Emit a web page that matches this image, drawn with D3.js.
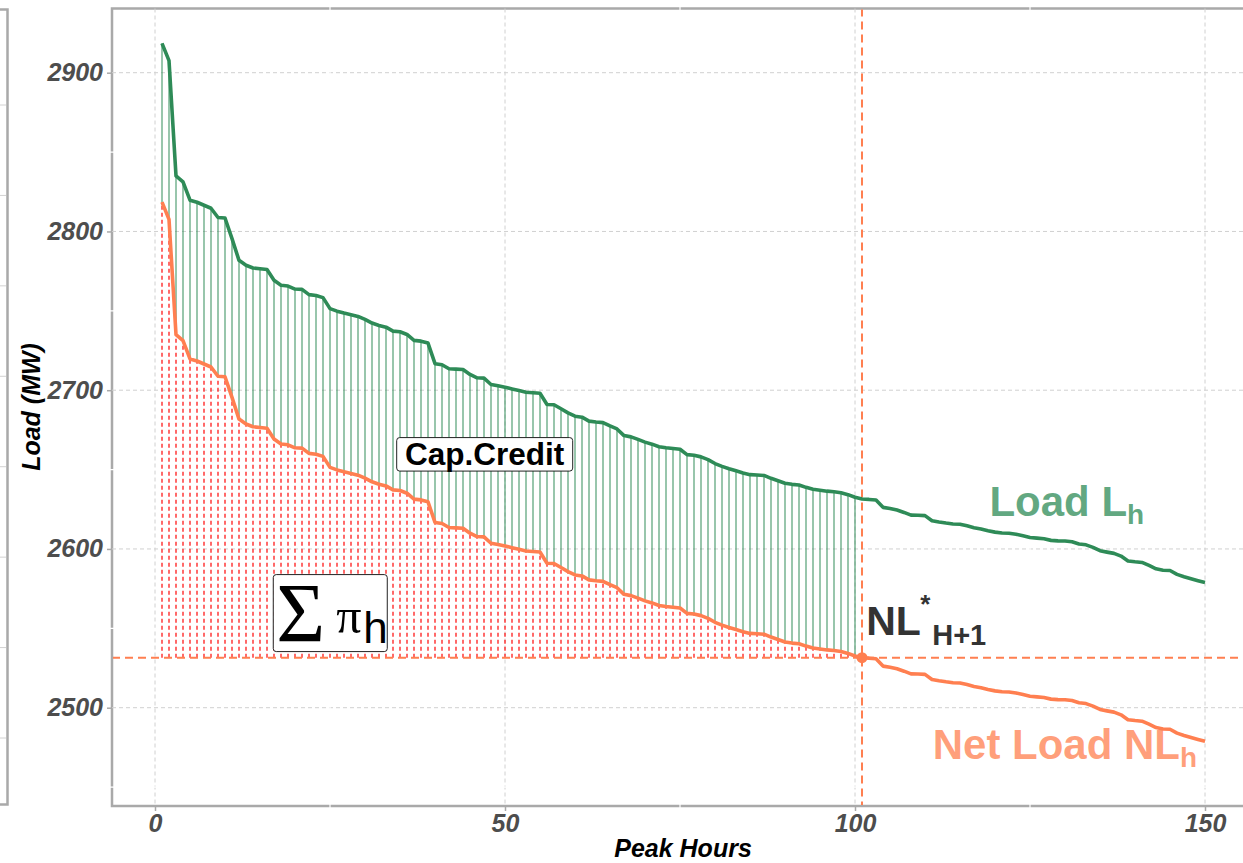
<!DOCTYPE html>
<html>
<head>
<meta charset="utf-8">
<script src="https://cdn.jsdelivr.net/npm/d3@7"></script>
<style>
  html, body { margin: 0; padding: 0; background: #ffffff; }
  svg { display: block; }
</style>
</head>
<body>
<svg id="chart" width="1243" height="863"></svg>
<script>
// Hourly load for the 150 peak hours, sorted from highest to lowest (MW)
const load = [
  2918.5, 2907.6, 2835.0, 2831.2, 2819.7, 2818.4, 2816.5, 2814.6, 2808.8, 2808.5,
  2795.5, 2781.8, 2778.7, 2777.0, 2776.5, 2776.0, 2769.2, 2766.1, 2765.6, 2763.7,
  2763.5, 2760.2, 2759.7, 2758.3, 2751.4, 2749.8, 2748.6, 2747.6, 2746.5, 2744.6,
  2742.3, 2740.8, 2739.7, 2737.2, 2736.8, 2735.1, 2731.4, 2730.9, 2729.7, 2716.7,
  2716.0, 2713.5, 2713.3, 2713.0, 2709.9, 2707.8, 2707.6, 2703.6, 2702.8, 2701.9,
  2700.8, 2699.8, 2698.7, 2698.4, 2698.1, 2691.0, 2690.8, 2688.3, 2685.7, 2683.6,
  2683.0, 2680.5, 2680.0, 2679.6, 2677.5, 2675.6, 2671.4, 2670.6, 2669.0, 2667.3,
  2666.0, 2664.4, 2663.7, 2663.3, 2662.8, 2659.4, 2659.0, 2658.0, 2656.3, 2653.8,
  2652.0, 2650.5, 2649.2, 2647.8, 2646.8, 2646.6, 2646.3, 2644.5, 2643.0, 2641.4,
  2640.7, 2640.3, 2638.8, 2637.6, 2637.0, 2636.4, 2636.0, 2635.4, 2634.2, 2632.6,
  2631.5, 2631.2, 2630.8, 2626.2, 2625.5, 2624.5, 2623.0, 2621.3, 2621.2, 2621.0,
  2617.8, 2617.0, 2616.3, 2615.7, 2615.6, 2614.6, 2613.4, 2612.6, 2611.5, 2610.6,
  2610.0, 2609.9, 2609.3, 2608.3, 2607.2, 2606.8, 2606.4, 2605.4, 2605.1, 2605.0,
  2604.5, 2603.1, 2602.6, 2601.0, 2598.9, 2598.0, 2597.2, 2595.5, 2592.4, 2591.9,
  2591.5, 2589.6, 2587.5, 2586.6, 2586.4, 2584.0, 2582.5, 2581.2, 2580.0, 2578.9
];

// Net load (load minus renewable output) for the same hours (MW)
const netLoad = [
  2818.5, 2807.6, 2735.0, 2731.2, 2719.7, 2718.4, 2716.5, 2714.6, 2708.8, 2708.5,
  2695.5, 2681.8, 2678.7, 2677.0, 2676.5, 2676.0, 2669.2, 2666.1, 2665.6, 2663.7,
  2663.5, 2660.2, 2659.7, 2658.3, 2651.4, 2649.8, 2648.6, 2647.6, 2646.5, 2644.6,
  2642.3, 2640.8, 2639.7, 2637.2, 2636.8, 2635.1, 2631.4, 2630.9, 2629.7, 2616.7,
  2616.0, 2613.5, 2613.3, 2613.0, 2609.9, 2607.8, 2607.6, 2603.6, 2602.8, 2601.9,
  2600.8, 2599.8, 2598.7, 2598.4, 2598.1, 2591.0, 2590.8, 2588.3, 2585.7, 2583.6,
  2583.0, 2580.5, 2580.0, 2579.6, 2577.5, 2575.6, 2571.4, 2570.6, 2569.0, 2567.3,
  2566.0, 2564.4, 2563.7, 2563.3, 2562.8, 2559.4, 2559.0, 2558.0, 2556.3, 2553.8,
  2552.0, 2550.5, 2549.2, 2547.8, 2546.8, 2546.6, 2546.3, 2544.5, 2543.0, 2541.4,
  2540.7, 2540.3, 2538.8, 2537.6, 2537.0, 2536.4, 2536.0, 2535.4, 2534.2, 2532.6,
  2531.5, 2531.2, 2530.8, 2526.2, 2525.5, 2524.5, 2523.0, 2521.3, 2521.2, 2521.0,
  2517.8, 2517.0, 2516.3, 2515.7, 2515.6, 2514.6, 2513.4, 2512.6, 2511.5, 2510.6,
  2510.0, 2509.9, 2509.3, 2508.3, 2507.2, 2506.8, 2506.4, 2505.4, 2505.1, 2505.0,
  2504.5, 2503.1, 2502.6, 2501.0, 2498.9, 2498.0, 2497.2, 2495.5, 2492.4, 2491.9,
  2491.5, 2489.6, 2487.5, 2486.6, 2486.4, 2484.0, 2482.5, 2481.2, 2480.0, 2478.9
];

// Number of peak hours H counted in the capacity credit
const peakHoursH = 100;

// Axis ticks
const xTicks = [0, 50, 100, 150];
const yTicks = [2500, 2600, 2700, 2800, 2900];
const xMinor = [25, 75, 125];
const yMinor = [2450, 2550, 2650, 2750, 2850];

const hours = load.map((_, i) => i + 1);
const rows = hours.map((h, i) => ({ h, load: load[i], net: netLoad[i] }));
const cutoff = rows[peakHoursH];          // hour H+1
const threshold = cutoff.net;             // NL*_{H+1}

const svg = d3.select("#chart");
const W = 1243, H = 863;
const panel = { left: 112, top: 8.5, right: 1262, bottom: 806 };

const x = d3.scaleLinear().domain([0, 150]).range([155, 1205]);
const y = d3.scaleLinear().domain([2500, 2900]).range([707.7, 72.7]);

const GREEN = "#2e8b57";
const CORAL = "#ff7f50";
const BORDER = "#a9a9a9";
const FONT = "'Liberation Sans', Arial, Helvetica, sans-serif";
const SERIF = "'Liberation Serif', 'Times New Roman', serif";

svg.append("rect").attr("width", W).attr("height", H).attr("fill", "#ffffff");

// Edge of the neighbouring panel on the left
const stubY = d3.scaleLinear().domain([0, 7]).range([105, 738]);
const stub = svg.append("g");
stub.selectAll("line.grid").data(d3.range(8)).join("line")
  .attr("x1", 0).attr("x2", 6)
  .attr("y1", d => stubY(d)).attr("y2", d => stubY(d))
  .attr("stroke", "#d2d2d2").attr("stroke-width", 1);
stub.append("path")
  .attr("d", `M0,9.5 H7.5 V804.5 H0`)
  .attr("fill", "none").attr("stroke", BORDER).attr("stroke-width", 2.5);

// Panel background and border
svg.append("rect")
  .attr("x", panel.left).attr("y", panel.top)
  .attr("width", panel.right - panel.left).attr("height", panel.bottom - panel.top)
  .attr("fill", "#ffffff").attr("stroke", BORDER).attr("stroke-width", 2.5);

// Grid
const grid = svg.append("g");
grid.selectAll("line.vmaj").data(xTicks).join("line")
  .attr("x1", d => x(d)).attr("x2", d => x(d))
  .attr("y1", panel.top).attr("y2", panel.bottom)
  .attr("stroke", "#d0d0d0").attr("stroke-width", 1).attr("stroke-dasharray", "4,3");
grid.selectAll("line.hmaj").data(yTicks).join("line")
  .attr("x1", panel.left).attr("x2", panel.right)
  .attr("y1", d => y(d)).attr("y2", d => y(d))
  .attr("stroke", "#d0d0d0").attr("stroke-width", 1).attr("stroke-dasharray", "4,3");
grid.selectAll("line.vmin").data(xMinor).join("line")
  .attr("x1", d => x(d)).attr("x2", d => x(d))
  .attr("y1", panel.top - 2).attr("y2", panel.bottom + 2)
  .attr("stroke", "#ffffff").attr("stroke-width", 1.2);
grid.selectAll("line.hmin").data(yMinor).join("line")
  .attr("x1", panel.left - 2).attr("x2", panel.right)
  .attr("y1", d => y(d)).attr("y2", d => y(d))
  .attr("stroke", "#ffffff").attr("stroke-width", 1.2);

// Data layer clipped to the panel
svg.append("clipPath").attr("id", "clip")
  .append("rect")
  .attr("x", panel.left + 1).attr("y", panel.top + 1)
  .attr("width", panel.right - panel.left - 2).attr("height", panel.bottom - panel.top - 2);
const plot = svg.append("g").attr("clip-path", "url(#clip)");

const peak = rows.slice(0, peakHoursH);

// Capacity credit: gap between load and net load for each peak hour
plot.append("g").selectAll("line").data(peak).join("line")
  .attr("x1", d => x(d.h)).attr("x2", d => x(d.h))
  .attr("y1", d => y(d.net)).attr("y2", d => y(d.load))
  .attr("stroke", GREEN).attr("stroke-width", 1.4).attr("stroke-opacity", 0.7);

// Net load above the H+1 level
plot.append("g").selectAll("line").data(peak).join("line")
  .attr("x1", d => x(d.h)).attr("x2", d => x(d.h))
  .attr("y1", y(threshold)).attr("y2", d => y(d.net))
  .attr("stroke", "#ff1a1a").attr("stroke-width", 1.3).attr("stroke-dasharray", "4,3");

// Reference lines through NL*_{H+1}
plot.append("line")
  .attr("x1", x(cutoff.h)).attr("x2", x(cutoff.h))
  .attr("y1", panel.top).attr("y2", panel.bottom)
  .attr("stroke", CORAL).attr("stroke-width", 2).attr("stroke-dasharray", "8,5");
plot.append("line")
  .attr("x1", panel.left).attr("x2", panel.right)
  .attr("y1", y(threshold)).attr("y2", y(threshold))
  .attr("stroke", CORAL).attr("stroke-width", 2).attr("stroke-dasharray", "8,5");

// Load and net load duration curves
const lineLoad = d3.line().x(d => x(d.h)).y(d => y(d.load));
const lineNet = d3.line().x(d => x(d.h)).y(d => y(d.net));
plot.append("path").datum(rows).attr("d", lineLoad)
  .attr("fill", "none").attr("stroke", GREEN).attr("stroke-width", 3.6)
  .attr("stroke-linejoin", "round");
plot.append("path").datum(rows).attr("d", lineNet)
  .attr("fill", "none").attr("stroke", CORAL).attr("stroke-width", 3.6)
  .attr("stroke-linejoin", "round");

plot.append("circle")
  .attr("cx", x(cutoff.h)).attr("cy", y(threshold)).attr("r", 5.5)
  .attr("fill", CORAL);

// Axes
const axisStyle = g => {
  g.select(".domain").remove();
  g.selectAll(".tick line").attr("stroke", BORDER).attr("stroke-width", 1.5);
  g.selectAll(".tick text")
    .attr("fill", "#4d4d4d")
    .style("font-family", FONT).style("font-size", "25px")
    .style("font-weight", "bold").style("font-style", "italic");
};
svg.append("g").attr("transform", `translate(${panel.left},0)`)
  .call(d3.axisLeft(y).tickValues(yTicks).tickSize(5).tickPadding(4).tickFormat(d3.format("d")))
  .call(axisStyle);
svg.append("g").attr("transform", `translate(0,${panel.bottom})`)
  .call(d3.axisBottom(x).tickValues(xTicks).tickSize(5).tickPadding(3).tickFormat(d3.format("d")))
  .call(axisStyle);

svg.append("text")
  .attr("transform", `translate(40,407) rotate(-90)`)
  .attr("text-anchor", "middle")
  .style("font-family", FONT).style("font-size", "25px")
  .style("font-weight", "bold").style("font-style", "italic")
  .attr("fill", "#000000").text("Load (MW)");
svg.append("text")
  .attr("x", 683).attr("y", 857)
  .attr("text-anchor", "middle")
  .style("font-family", FONT).style("font-size", "25px")
  .style("font-weight", "bold").style("font-style", "italic")
  .attr("fill", "#000000").text("Peak Hours");

// Curve labels
const loadLabel = svg.append("text")
  .attr("x", x(119.2)).attr("y", y(2620.5))
  .style("font-family", FONT).style("font-weight", "bold")
  .attr("fill", GREEN).attr("fill-opacity", 0.75);
loadLabel.append("tspan").style("font-size", "42px").text("Load L");
loadLabel.append("tspan").style("font-size", "28px").attr("dy", 8).text("h");

const netLabel = svg.append("text")
  .attr("x", x(111.1)).attr("y", y(2468))
  .style("font-family", FONT).style("font-weight", "bold")
  .attr("fill", CORAL).attr("fill-opacity", 0.75);
netLabel.append("tspan").style("font-size", "42px").text("Net Load NL");
netLabel.append("tspan").style("font-size", "28px").attr("dy", 8).text("h");

const nlX = x(101.6), nlY = y(2546);
const nlLabel = svg.append("text")
  .style("font-family", FONT).style("font-weight", "bold")
  .attr("fill", "#333333");
nlLabel.append("tspan").attr("x", nlX).attr("y", nlY).style("font-size", "41px").text("NL");
nlLabel.append("tspan").attr("x", nlX + 54).attr("y", nlY - 22).style("font-size", "26px").text("*");
nlLabel.append("tspan").attr("x", nlX + 66).attr("y", nlY + 10).style("font-size", "29px").text("H+1");

// Boxed annotations
function boxedLabel(cx, cy, w, h) {
  const g = svg.append("g").attr("transform", `translate(${cx},${cy})`);
  g.append("rect")
    .attr("x", -w / 2).attr("y", -h / 2).attr("width", w).attr("height", h)
    .attr("rx", 3).attr("ry", 3)
    .attr("fill", "#ffffff").attr("stroke", "#222222").attr("stroke-width", 1);
  return g;
}

const capBox = boxedLabel(x(47.1), y(2659.6), 176, 33.5);
capBox.append("text")
  .attr("text-anchor", "middle").attr("y", 11)
  .style("font-family", FONT).style("font-size", "31.5px").style("font-weight", "bold")
  .attr("fill", "#000000").text("Cap.Credit");

const sumBox = boxedLabel(x(25.04), y(2559.6), 114, 77);
const sumText = sumBox.append("text").attr("fill", "#000000");
sumText.append("tspan").attr("x", -54).attr("y", 29)
  .style("font-family", SERIF).style("font-size", "84px").text("\u03A3");
sumText.append("tspan").attr("x", 6).attr("y", 20)
  .style("font-family", SERIF).style("font-size", "50px").text("\u03C0");
sumText.append("tspan").attr("x", 33).attr("y", 30)
  .style("font-family", FONT).style("font-size", "44px").text("h");
</script>
</body>
</html>
